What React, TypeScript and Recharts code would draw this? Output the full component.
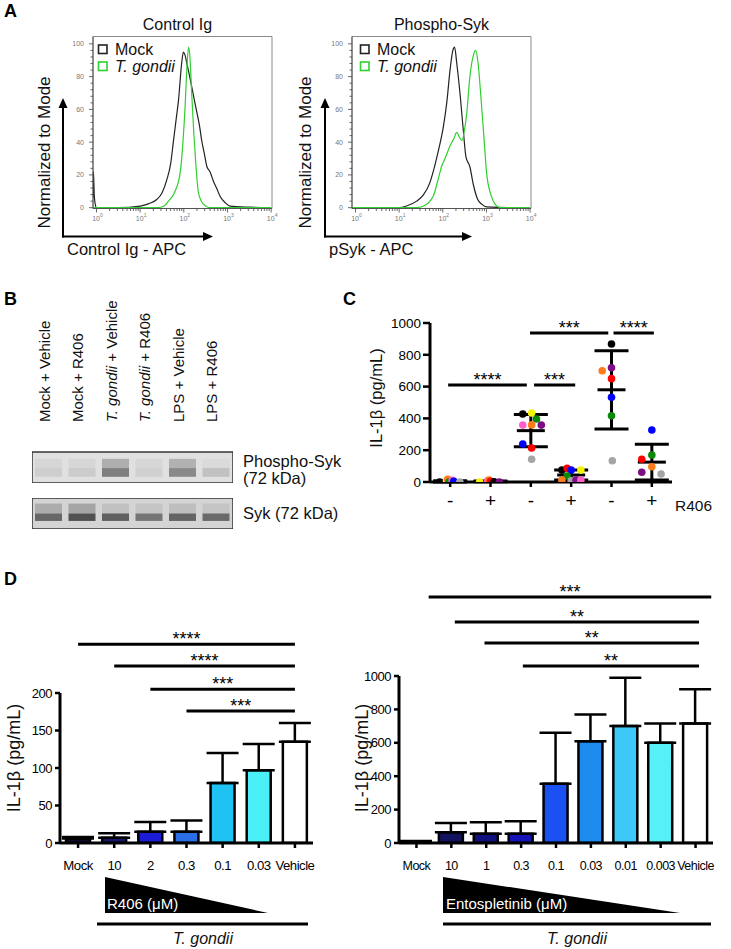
import React from 'react'
import {
  LineChart, Line, XAxis, YAxis, ReferenceArea, BarChart, Bar, Cell,
  ComposedChart, Scatter, ErrorBar, ReferenceLine,
} from 'recharts'

const FONT = '"Liberation Sans", Arial, Helvetica, sans-serif'

// ---------- Panel A: flow histograms (x = log10 APC, y = % of mode)
const histNames = ['Mock', 'T. gondii']
const histColors = ['#222222', '#2fcf2f']

const ctrlMockX = [-0.08, -0.07, -0.05, -0.02, 0, 0.5, 1.0, 1.2, 1.38, 1.5, 1.61, 1.7, 1.76, 1.82, 1.88, 1.95, 1.99, 2.03, 2.07, 2.12, 2.18, 2.24, 2.3, 2.36, 2.41, 2.47, 2.53, 2.6, 2.68, 2.75, 2.83, 2.95, 3.06, 3.5, 4.0]
const ctrlMockY = [6, 22, 7, 1, 0, 0, 1, 2.5, 5, 9, 17, 27, 40, 53, 66, 88, 95, 93, 88, 82, 74, 66, 58, 50, 41, 33, 25, 22, 16, 12, 7, 3, 1, 0.3, 0]
const ctrlTgX = [-0.08, 1.4, 1.55, 1.65, 1.8, 1.92, 1.98, 2.03, 2.07, 2.11, 2.14, 2.18, 2.23, 2.28, 2.33, 2.4, 2.5, 2.6, 4.0]
const ctrlTgY = [0, 0, 1, 4, 10, 22, 40, 62, 85, 98, 92, 70, 45, 25, 10, 4, 1, 0, 0]
const psykMockX = [-0.08, 0.5, 1.0, 1.17, 1.4, 1.56, 1.7, 1.78, 1.9, 2.01, 2.09, 2.17, 2.23, 2.27, 2.32, 2.4, 2.47, 2.53, 2.62, 2.7, 2.8, 2.9, 3.0, 3.5, 4.0]
const psykMockY = [0, 0, 0, 1, 4, 8, 15, 22, 35, 49, 64, 85, 96, 98, 88, 68, 47, 31, 25, 14, 5, 2, 0.5, 0, 0]
const psykTgX = [-0.08, 1.4, 1.56, 1.78, 1.9, 1.97, 2.05, 2.17, 2.25, 2.32, 2.38, 2.44, 2.5, 2.55, 2.62, 2.7, 2.75, 2.8, 2.88, 2.95, 3.0, 3.1, 3.2, 3.3, 4.0]
const psykTgY = [0, 0, 1, 7, 18, 25, 30, 38, 42, 46, 43, 41, 48, 58, 80, 93, 96, 90, 65, 40, 22, 8, 2, 0, 0]

// ---------- Panel B: western blot band intensities per lane
const laneOrganism = ['Mock', 'Mock', 'T. gondii', 'T. gondii', 'LPS', 'LPS']
const laneDrug = ['Vehicle', 'R406', 'Vehicle', 'R406', 'Vehicle', 'R406']
const pSykBand = [0.09, 0.1, 0.5, 0.08, 0.45, 0.16]
const pSykSmear = [0.05, 0.05, 0.26, 0.05, 0.24, 0.03]
const sykBand = [0.6, 0.72, 0.64, 0.52, 0.62, 0.58]
const sykSmear = [0.22, 0.26, 0.1, 0.08, 0.12, 0.08]

// ---------- Panel C: IL-1b dot plot
const cSigns = ['-', '+', '-', '+', '-', '+']
const cGroupLabels = ['Mock', 'T. gondii', 'LPS']
const K = '#000000', YE = '#f4f400', GN = '#0a8a0a', PK = '#ff5fc8', OR = '#ff7a1a', PU = '#7d0d86', BL = '#0000ff', RD = '#ff0000', GR = '#a5a5a5'
const cVals = [
  [0, 10, 17, 0, 10, 5, 0],
  [0, 8, 12, 5, 2, 0],
  [428, 434, 396, 358, 359, 358, 239, 214, 143],
  [75, 86, 75, 75, 38, 13, 8, 13, 13],
  [868, 700, 719, 650, 533, 417, 134],
  [327, 143, 170, 96, 61, 50],
]
const cCols = [
  [K, YE, OR, GN, PK, BL, GR],
  [YE, PK, OR, RD, K, PU],
  [K, YE, GN, PK, OR, PU, BL, RD, GR],
  [K, RD, BL, YE, GN, OR, GR, PU, PK],
  [K, OR, PU, RD, BL, GN, GR],
  [BL, RD, GN, OR, PU, GR],
]
const cJitter = [
  [-0.26, -0.09, -0.06, -0.03, 0.05, 0.09, 0.24],
  [-0.27, -0.07, -0.04, 0, 0.09, 0.22],
  [-0.2, 0.02, 0.14, -0.2, 0.02, 0.26, -0.2, 0.02, 0.02],
  [-0.23, -0.1, 0, 0.24, -0.1, -0.23, 0, 0.12, 0.24],
  [0, -0.23, 0, 0, 0, 0, 0.02],
  [0, -0.25, 0, 0, -0.25, 0.23],
]
const cMean = [4, 4, 323, 44, 580, 125]
const cSd = [4, 3, 101, 31, 246, 112]
const cSigFrom = [-0.05, 2.08, 1.98, 4.05]
const cSigTo = [1.9, 3.1, 3.92, 5.05]
const cSigY = [610, 610, 937, 937]
const cSigStars = ['****', '***', '***', '****']

// ---------- Panel D: dose responses
const r406Labels = ['Mock', '10', '2', '0.3', '0.1', '0.03', 'Vehicle']
const r406Mean = [6, 7, 15, 15, 80, 97, 135]
const r406Sd = [2, 6, 13, 15, 40, 35, 25]
const r406Colors = ['#0b0b2e', '#16166a', '#1c1cd6', '#2a6fe6', '#1fc3f3', '#4af0f8', '#ffffff']
const r406SigFrom = [0, 1, 2, 3]
const r406SigTo = [6, 6, 6, 6]
const r406SigY = [265, 236, 205, 176]
const r406SigStars = ['****', '****', '***', '***']

const entoLabels = ['Mock', '10', '1', '0.3', '0.1', '0.03', '0.01', '0.003', 'Vehicle']
const entoMean = [10, 65, 55, 55, 355, 610, 700, 600, 715]
const entoSd = [2, 55, 70, 75, 305, 160, 290, 115, 205]
const entoColors = ['#0b0b2e', '#12125e', '#10107e', '#1414b8', '#1b50f2', '#1e8cee', '#3dc8f8', '#55f0f8', '#ffffff']
const entoSigFrom = [0.35, 1.1, 1.95, 3.05]
const entoSigTo = [8.45, 8.1, 8.1, 8.1]
const entoSigY = [1473, 1323, 1198, 1060]
const entoSigStars = ['***', '**', '**', '**']

const toPoints = (xs: number[], ys: number[]) => xs.map((x, i) => ({ x, y: ys[i] }))

const logTicks: number[] = []
for (let d = 0; d < 4; d++) for (let k = 1; k < 10; k++) logTicks.push(+(d + Math.log10(k)).toFixed(4))
logTicks.push(4)
const pctTicks = Array.from({ length: 26 }, (_, i) => i * 4)

const LogTick = ({ x, y, payload }: any) => {
  const v = payload.value
  const major = Math.abs(v - Math.round(v)) < 1e-3
  return (
    <g>
      <line x1={x} x2={x} y1={y} y2={y + (major ? 4 : 2.5)} stroke="#444" strokeWidth={0.8} />
      {major && (
        <text x={x + 1} y={y + 12} textAnchor="middle" fontSize={7} fill="#777" fontFamily={FONT}>
          10<tspan dy={-3.5} fontSize={5}>{Math.round(v)}</tspan>
        </text>
      )}
    </g>
  )
}

const PctTick = ({ x, y, payload }: any) => {
  const major = payload.value % 20 === 0
  return (
    <g>
      <line x1={x - (major ? 4 : 2.5)} x2={x} y1={y} y2={y} stroke="#444" strokeWidth={0.8} />
      {major && (
        <text x={x - 9} y={y + 2.5} textAnchor="end" fontSize={7} fill="#777" fontFamily={FONT}>{payload.value}</text>
      )}
    </g>
  )
}

const HistChart = ({ left, mockX, mockY, tgX, tgY }: any) => (
  <div style={{ position: 'absolute', left, top: 28 }}>
    <LineChart width={228} height={200} margin={{ top: 8.5, right: 16, bottom: 1.5, left: 0 }}>
      <XAxis type="number" dataKey="x" domain={[-0.08, 4.02]} ticks={logTicks} interval={0} tick={<LogTick />}
        tickLine={false} tickSize={0} tickMargin={0} height={18} axisLine={{ stroke: '#555' }} allowDataOverflow />
      <YAxis type="number" dataKey="y" domain={[-0.5, 104.5]} ticks={pctTicks} interval={0} tick={<PctTick />}
        tickLine={false} tickSize={0} tickMargin={0} width={33} axisLine={{ stroke: '#555' }} allowDataOverflow />
      <ReferenceArea x1={-0.08} x2={4.02} y1={-0.5} y2={104.5} fill="none" stroke="#8a8a8a" strokeWidth={1} />
      <Line data={toPoints(mockX, mockY)} dataKey="y" name={histNames[0]} stroke={histColors[0]} strokeWidth={1.2}
        dot={false} type="monotone" isAnimationActive={false} />
      <Line data={toPoints(tgX, tgY)} dataKey="y" name={histNames[1]} stroke={histColors[1]} strokeWidth={1.2}
        dot={false} type="monotone" isAnimationActive={false} />
    </LineChart>
  </div>
)

const LaneTick = ({ x, y, payload }: any) => {
  const i = payload.value
  const org = laneOrganism[i]
  return (
    <text transform={`translate(${x + 1},${y - 30}) rotate(-90)`} fontSize={15} fontFamily={FONT} fill="#111"
      style={{ whiteSpace: 'pre' }}>
      <tspan fontStyle={org.startsWith('T.') ? 'italic' : 'normal'}>{org}</tspan>
      <tspan>{' + ' + laneDrug[i]}</tspan>
    </text>
  )
}

const bandFill = (a: number) => `rgba(30,30,30,${a})`

const Blot = ({ top, band, smear, bg, labels, base, bandH, smearH }: any) => {
  const rows = band.map((b: number, i: number) => ({ lane: i, base, band: bandH, smear: smearH, bi: b, si: smear[i] }))
  return (
    <div style={{ position: 'absolute', left: 32, top: labels ? top - 162 : top }}>
      <BarChart width={201} height={labels ? 193 : 31} data={rows} barSize={27}
        margin={{ top: 0, right: 0, bottom: 0, left: 0 }}>
        <XAxis dataKey="lane" type="category" orientation="top" hide={!labels} height={labels ? 162 : 0}
          tick={<LaneTick />} tickLine={false} axisLine={false} interval={0} tickSize={0} tickMargin={0} />
        <YAxis hide domain={[0, 1]} />
        <ReferenceArea y1={0} y2={1} fill={bg} fillOpacity={1} stroke="#333" strokeWidth={1.5} />
        <Bar dataKey="base" stackId="s" fill="transparent" isAnimationActive={false} />
        <Bar dataKey="band" stackId="s" isAnimationActive={false}>
          {rows.map((r: any, i: number) => <Cell key={i} fill={bandFill(r.bi)} />)}
        </Bar>
        <Bar dataKey="smear" stackId="s" isAnimationActive={false}>
          {rows.map((r: any, i: number) => <Cell key={i} fill={bandFill(r.si)} />)}
        </Bar>
      </BarChart>
    </div>
  )
}

const SignTick = ({ x, y, payload }: any) => (
  <text x={x} y={y + 20} textAnchor="middle" fontSize={19} fontFamily={FONT} fill="#000">{cSigns[payload.value]}</text>
)

const GroupTick = ({ x, y, index }: any) => (
  <g>
    <line x1={x - 23.5} x2={x + 23.5} y1={y + 6} y2={y + 6} stroke="#000" strokeWidth={3} />
    <text x={x} y={y + 27} textAnchor="middle" fontSize={16} fontFamily={FONT} fill="#000"
      fontStyle={cGroupLabels[index].startsWith('T.') ? 'italic' : 'normal'}>{cGroupLabels[index]}</text>
  </g>
)

const starLabel = (s: string) => ({ value: s, position: 'top' as const, offset: -1, fontSize: 18, fill: '#000', fontFamily: FONT })

const PanelC = () => {
  const dots: any[] = []
  cVals.forEach((vals, g) => vals.forEach((v, i) => dots.push({ x: g + cJitter[g][i], y: v, color: cCols[g][i] })))
  const summary = cMean.map((m, g) => ({ x: g, y: m, sd: cSd[g] }))
  return (
    <div style={{ position: 'absolute', left: 340, top: 300 }}>
      <ComposedChart width={391} height={250} margin={{ top: 23, right: 59, bottom: 10, left: 0 }}>
        <XAxis type="number" dataKey="x" domain={[-0.5, 5.5]} ticks={[0, 1, 2, 3, 4, 5]} interval={0} height={28}
          tickSize={5} tickMargin={0} tick={<SignTick />} tickLine={{ stroke: '#000', strokeWidth: 2.5 }}
          axisLine={{ stroke: '#000', strokeWidth: 3 }} allowDataOverflow />
        <XAxis xAxisId="grp" type="number" domain={[-0.5, 5.5]} ticks={[0.5, 2.5, 4.5]} interval={0} height={30}
          tickSize={0} tickMargin={0} tick={<GroupTick />} tickLine={false} axisLine={false} allowDataOverflow />
        <YAxis type="number" dataKey="y" domain={[0, 1000]} ticks={[0, 200, 400, 600, 800, 1000]} width={90}
          tickSize={7} tickMargin={2} tick={{ fontSize: 13.5, fill: '#000', fontFamily: FONT }}
          tickLine={{ stroke: '#000', strokeWidth: 2.5 }} axisLine={{ stroke: '#000', strokeWidth: 3 }} allowDataOverflow />
        <Scatter data={summary} isAnimationActive={false}
          shape={(p: any) => <line x1={p.cx - 14} x2={p.cx + 14} y1={p.cy} y2={p.cy} stroke="#000" strokeWidth={3} />}>
          <ErrorBar dataKey="sd" direction="y" width={17} strokeWidth={3} stroke="#000" />
        </Scatter>
        <Scatter data={dots} isAnimationActive={false}
          shape={(p: any) => <circle cx={p.cx} cy={p.cy} r={3.8} fill={p.payload.color} />} />
        {cSigFrom.map((f, i) => (
          <ReferenceLine key={i} segment={[{ x: f, y: cSigY[i] }, { x: cSigTo[i], y: cSigY[i] }]}
            stroke="#000" strokeWidth={3} label={starLabel(cSigStars[i])} />
        ))}
      </ComposedChart>
    </div>
  )
}

const DoseChart = ({ left, top, width, height, marginTop, marginRight, yWidth, yMax, yTicks,
  labels, mean, sd, colors, sigFrom, sigTo, sigY, sigStars, tickFont }: any) => {
  const rows = mean.map((m: number, i: number) => ({ x: i, v: m, err: [0, sd[i]] }))
  const n = labels.length
  const DoseTick = ({ x, y, payload }: any) => (
    <text x={x} y={y + 22} textAnchor="middle" fontSize={tickFont} fontFamily={FONT} fill="#000" letterSpacing={-0.5}>
      {labels[payload.value]}
    </text>
  )
  return (
    <div style={{ position: 'absolute', left, top }}>
      <BarChart width={width} height={height} data={rows} barSize={24}
        margin={{ top: marginTop, right: marginRight, bottom: 17, left: 0 }}>
        <XAxis type="number" dataKey="x" domain={[-0.5, n - 0.5]} ticks={labels.map((_: string, i: number) => i)}
          interval={0} height={20} tickSize={5} tickMargin={0} tick={<DoseTick />}
          tickLine={{ stroke: '#000', strokeWidth: 2.5 }} axisLine={{ stroke: '#000', strokeWidth: 3 }} allowDataOverflow />
        <YAxis type="number" domain={[0, yMax]} ticks={yTicks} interval={0} width={yWidth} tickSize={5} tickMargin={3}
          tick={{ fontSize: 13, fill: '#000', fontFamily: FONT, letterSpacing: -0.5 }}
          tickLine={{ stroke: '#000', strokeWidth: 2.5 }} axisLine={false} allowDataOverflow />
        <ReferenceLine segment={[{ x: -0.5, y: 0 }, { x: -0.5, y: yTicks[yTicks.length - 1] }]} stroke="#000" strokeWidth={3} />
        <Bar dataKey="v" stroke="#000" strokeWidth={2.5} isAnimationActive={false}>
          {rows.map((_: any, i: number) => <Cell key={i} fill={colors[i]} />)}
          <ErrorBar dataKey="err" direction="y" width={16} strokeWidth={2.5} stroke="#000" />
        </Bar>
        {sigFrom.map((f: number, i: number) => (
          <ReferenceLine key={i} segment={[{ x: f, y: sigY[i] }, { x: sigTo[i], y: sigY[i] }]}
            stroke="#000" strokeWidth={3} label={starLabel(sigStars[i])} />
        ))}
      </BarChart>
    </div>
  )
}

const Overlay = () => {
  const t = { fontFamily: FONT, fill: '#111' }
  return (
    <svg width={731} height={949} style={{ position: 'absolute', left: 0, top: 0, pointerEvents: 'none' }}>
      <g fontFamily={FONT} fill="#000" fontWeight="bold" fontSize={18}>
        <text x={4} y={17}>A</text>
        <text x={4} y={305}>B</text>
        <text x={343} y={305}>C</text>
        <text x={4} y={585}>D</text>
      </g>
      {/* panel A titles, legends, arrow axes */}
      <text x={177.5} y={30} textAnchor="middle" fontSize={16} {...t}>Control Ig</text>
      <text x={441.5} y={30} textAnchor="middle" fontSize={16} {...t}>Phospho-Syk</text>
      {[0, 262].map((dx) => (
        <g key={dx}>
          {histNames.map((nm, i) => (
            <g key={nm}>
              <rect x={98.5 + dx} y={45 + i * 17} width={8.5} height={8.5} fill="none" stroke={histColors[i]} strokeWidth={1.6} />
              <text x={115 + dx} y={55 + i * 17} fontSize={16} fontStyle={nm.startsWith('T.') ? 'italic' : 'normal'} {...t}>{nm}</text>
            </g>
          ))}
        </g>
      ))}
      {[{ ax: 63, tip: 213, lbl: 'Control Ig - APC', ly: 50 }, { ax: 325, tip: 472, lbl: 'pSyk - APC', ly: 311 }].map((a) => (
        <g key={a.ax}>
          <line x1={a.ax} x2={a.ax} y1={237.5} y2={106} stroke="#000" strokeWidth={2} />
          <polygon points={`${a.ax},98 ${a.ax - 4.5},108 ${a.ax + 4.5},108`} fill="#000" />
          <line x1={a.ax - 1} x2={a.tip - 7} y1={236.5} y2={236.5} stroke="#000" strokeWidth={2} />
          <polygon points={`${a.tip},236.5 ${a.tip - 10},232 ${a.tip - 10},241`} fill="#000" />
          <text x={a.ax + 4} y={255} fontSize={16.5} {...t}>{a.lbl}</text>
          <text transform={`translate(${a.ly},152.5) rotate(-90)`} textAnchor="middle" fontSize={17} {...t}>Normalized to Mode</text>
        </g>
      ))}
      {/* panel B labels */}
      <text x={243} y={467} fontSize={16.5} {...t}>Phospho-Syk</text>
      <text x={243} y={484} fontSize={16.5} {...t}>(72 kDa)</text>
      <text x={243} y={519} fontSize={16.5} {...t}>Syk (72 kDa)</text>
      {/* panel C labels */}
      <text x={675} y={511} fontSize={15.5} {...t}>R406</text>
      <text transform="translate(382,398) rotate(-90)" textAnchor="middle" fontSize={16.5} {...t}>IL-1β (pg/mL)</text>
      {/* panel D labels */}
      <text transform="translate(20,758) rotate(-90)" textAnchor="middle" fontSize={18} {...t}>IL-1β (pg/mL)</text>
      <text transform="translate(368,758) rotate(-90)" textAnchor="middle" fontSize={18} {...t}>IL-1β (pg/mL)</text>
      <polygon points="105,877 105,913 268,913" fill="#000" />
      <polygon points="443,877 443,913 680,913" fill="#000" />
      <text x={107} y={909} fontSize={15} fontFamily={FONT} fill="#fff">R406 (μM)</text>
      <text x={446} y={909} fontSize={15} fontFamily={FONT} fill="#fff">Entospletinib (μM)</text>
      <line x1={97} x2={308} y1={924} y2={924} stroke="#000" strokeWidth={3} />
      <line x1={443} x2={711} y1={924} y2={924} stroke="#000" strokeWidth={3} />
      <text x={203} y={944} textAnchor="middle" fontSize={16} fontStyle="italic" {...t}>T. gondii</text>
      <text x={577} y={944} textAnchor="middle" fontSize={16} fontStyle="italic" {...t}>T. gondii</text>
    </svg>
  )
}

export default function App() {
  return (
    <div style={{ position: 'absolute', left: 0, top: 0, width: 731, height: 949, background: '#fff', fontFamily: FONT }}>
      <HistChart left={60} mockX={ctrlMockX} mockY={ctrlMockY} tgX={ctrlTgX} tgY={ctrlTgY} />
      <HistChart left={319} mockX={psykMockX} mockY={psykMockY} tgX={psykTgX} tgY={psykTgY} />
      <Blot top={452} band={pSykBand} smear={pSykSmear} bg="#e0e0e0" labels base={0.2} bandH={0.28} smearH={0.3} />
      <Blot top={498} band={sykBand} smear={sykSmear} bg="#d4d4d4" base={0.26} bandH={0.24} smearH={0.32} />
      <PanelC />
      <DoseChart left={0} top={610} width={330} height={270} marginTop={26.75} marginRight={17} yWidth={60}
        yMax={275} yTicks={[0, 50, 100, 150, 200]} labels={r406Labels} mean={r406Mean} sd={r406Sd} colors={r406Colors}
        sigFrom={r406SigFrom} sigTo={r406SigTo} sigY={r406SigY} sigStars={r406SigStars} tickFont={13.2} />
      <DoseChart left={340} top={560} width={391} height={320} marginTop={27.5} marginRight={18} yWidth={59}
        yMax={1530} yTicks={[0, 200, 400, 600, 800, 1000]} labels={entoLabels} mean={entoMean} sd={entoSd} colors={entoColors}
        sigFrom={entoSigFrom} sigTo={entoSigTo} sigY={entoSigY} sigStars={entoSigStars} tickFont={12.5} />
      <Overlay />
    </div>
  )
}
